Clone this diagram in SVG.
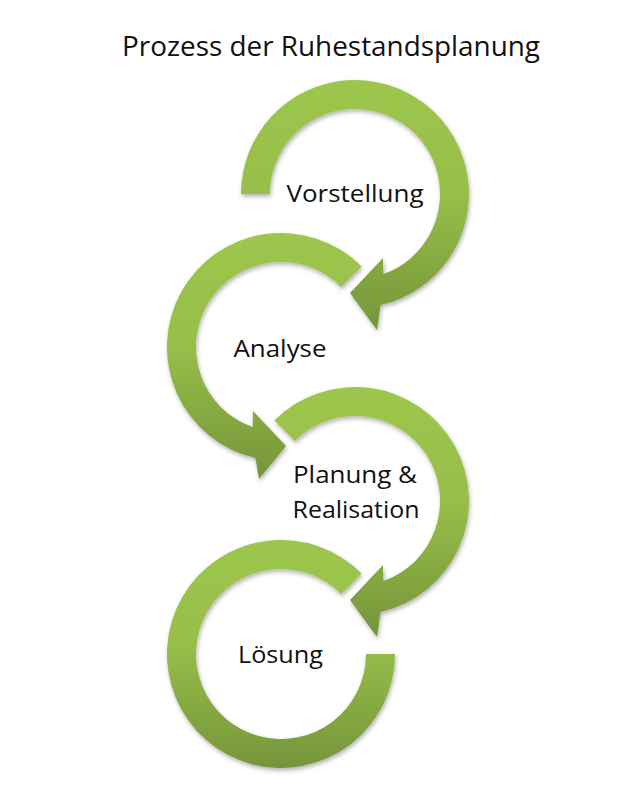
<svg xmlns="http://www.w3.org/2000/svg" width="640" height="796" viewBox="0 0 640 796">
  <defs>
    <linearGradient id="g" x1="0" y1="0" x2="0" y2="1">
      <stop offset="0" stop-color="#9dc64d"/>
      <stop offset="0.45" stop-color="#97bf49"/>
      <stop offset="1" stop-color="#75953a"/>
    </linearGradient>
    <filter id="sh" x="-10%" y="-10%" width="120%" height="125%">
      <feDropShadow dx="1" dy="2.5" stdDeviation="2" flood-color="#000" flood-opacity="0.3"/>
    </filter>
    <style>
      .arc { fill: url(#g); filter: url(#sh); }
      .lbl { font-family: "Open Sans", "Noto Sans", sans-serif; font-size: 23px; fill: #111; text-anchor: middle; }
      .title { font-family: "Open Sans", "Noto Sans", sans-serif; font-size: 28px; fill: #111; text-anchor: middle; }
    </style>
  </defs>
  <rect width="640" height="796" fill="#ffffff"/>
  <text class="title" x="331" y="56" textLength="418" lengthAdjust="spacingAndGlyphs">Prozess der Ruhestandsplanung</text>
  <g id="connectors"></g>
  <g id="vorstellung">
    <path class="arc" d="M241,194 A114,114 0 1 1 380.6,305.1 L377,330 L350,293 L383,258 L383.4,274.1 A85,85 0 1 0 270,194 Z"/>
    <text class="lbl" x="355" y="202" textLength="137" lengthAdjust="spacingAndGlyphs">Vorstellung</text>
  </g>
  <g id="analyse">
    <path class="arc" d="M361.6,266.4 A114,114 0 1 0 255.4,458.1 L259,479 L286,446 L253,411 L252.6,427.1 A85,85 0 1 1 341.1,286.9 Z"/>
    <text class="lbl" x="280" y="357" textLength="93" lengthAdjust="spacingAndGlyphs">Analyse</text>
  </g>
  <g id="planung">
    <path class="arc" d="M274.4,420.4 A114,114 0 1 1 380.6,612.1 L377,637 L350,600 L383,565 L383.4,581.1 A85,85 0 1 0 294.9,440.9 Z"/>
    <text class="lbl" x="355" y="483" textLength="124" lengthAdjust="spacingAndGlyphs">Planung &amp;</text>
    <text class="lbl" x="356" y="518" textLength="127" lengthAdjust="spacingAndGlyphs">Realisation</text>
  </g>
  <g id="loesung">
    <path class="arc" d="M361.6,573.4 A114,114 0 1 0 395,654 L366,654 A85,85 0 1 1 341.1,593.9 Z"/>
    <text class="lbl" x="280.5" y="663" textLength="85" lengthAdjust="spacingAndGlyphs">Lösung</text>
  </g>
</svg>
